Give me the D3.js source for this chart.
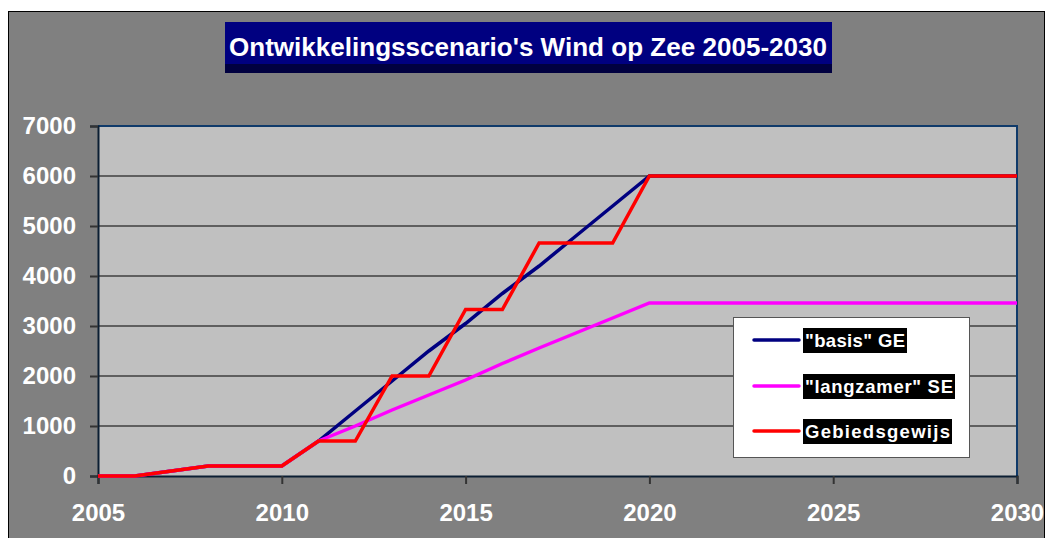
<!DOCTYPE html>
<html>
<head>
<meta charset="utf-8">
<script src="https://cdn.jsdelivr.net/npm/d3@7"></script>
<style>
  body { margin: 0; background: #fff; }
  svg { display: block; font-family: Arial, "Liberation Sans", sans-serif; }
</style>
</head>
<body>
<svg id="chart" width="1047" height="538"></svg>
<script>
// Data
var years = d3.range(2005, 2031);
var basis = [0, 0, 100, 200, 200, 200, 700, 1300, 1900, 2500, 3050, 3650, 4200, 4800, 5400, 6000,
             6000, 6000, 6000, 6000, 6000, 6000, 6000, 6000, 6000, 6000];
var langzamer = [0, 0, 100, 200, 200, 200, 700, 1000, 1320, 1620, 1920, 2250, 2560, 2860, 3160, 3460,
                 3460, 3460, 3460, 3460, 3460, 3460, 3460, 3460, 3460, 3460];
var gebied = [0, 0, 100, 200, 200, 200, 700, 700, 2000, 2000, 3330, 3330, 4660, 4660, 4660, 6000,
              6000, 6000, 6000, 6000, 6000, 6000, 6000, 6000, 6000, 6000];
var seriesNames = ['"basis" GE', '"langzamer" SE', 'Gebiedsgewijs'];
var seriesColors = ["#000080", "#ff00ff", "#ff0000"];
var xTicks = [2005, 2010, 2015, 2020, 2025, 2030];
var yTicks = [0, 1000, 2000, 3000, 4000, 5000, 6000, 7000];
var title = "Ontwikkelingsscenario's Wind op Zee 2005-2030";

var svg = d3.select("#chart");

// outer chart area
svg.append("rect")
  .attr("x", 8.5).attr("y", 11.5)
  .attr("width", 1036).attr("height", 540)
  .attr("fill", "#808080")
  .attr("stroke", "#000").attr("stroke-width", 1);

// title box
svg.append("rect")
  .attr("x", 225).attr("y", 22).attr("width", 607).attr("height", 51)
  .attr("fill", "#000040");
svg.append("rect")
  .attr("x", 225).attr("y", 22).attr("width", 607).attr("height", 42)
  .attr("fill", "#000080");
svg.append("text")
  .attr("x", 229).attr("y", 56)
  .attr("textLength", 598).attr("lengthAdjust", "spacingAndGlyphs")
  .attr("fill", "#fff").attr("font-weight", "bold").attr("font-size", 26)
  .text(title);

// Scales
var x = d3.scaleLinear().domain([2005, 2030]).range([98, 1017]);
var y = d3.scaleLinear().domain([0, 7000]).range([476, 126]);

// plot area
svg.append("rect")
  .attr("x", x(2005)).attr("y", y(7000))
  .attr("width", x(2030) - x(2005)).attr("height", y(0) - y(7000))
  .attr("fill", "#c0c0c0");

// gridlines
svg.append("g")
  .selectAll("line")
  .data(yTicks.filter(function(d) { return d > 0 && d < 7000; }))
  .enter().append("line")
  .attr("x1", x(2005)).attr("x2", x(2030))
  .attr("y1", function(d) { return y(d); })
  .attr("y2", function(d) { return y(d); })
  .attr("stroke", "#5f5f5f").attr("stroke-width", 2);

// plot border
svg.append("path")
  .attr("d", "M" + x(2005) + "," + y(7000) + "H" + x(2030) + "V" + y(0))
  .attr("fill", "none").attr("stroke", "#0f3a6a").attr("stroke-width", 2);

// axes
var yAxis = d3.axisLeft(y).tickValues(yTicks).tickSize(8).tickPadding(14).tickFormat(d3.format("d"));
var gy = svg.append("g").attr("transform", "translate(" + x(2005) + ",0)").call(yAxis);
var xAxis = d3.axisBottom(x).tickValues(xTicks).tickSize(8).tickPadding(20).tickFormat(d3.format("d"));
var gx = svg.append("g").attr("transform", "translate(0," + y(0) + ")").call(xAxis);

[gx, gy].forEach(function(g) {
  g.select(".domain").attr("stroke", "#0b1e33").attr("stroke-width", 2);
  g.selectAll(".tick line").attr("stroke", "#333").attr("stroke-width", 2);
  g.selectAll(".tick text")
    .attr("fill", "#fff").attr("font-size", 24).attr("font-weight", "bold")
    .attr("font-family", "Arial, 'Liberation Sans', sans-serif");
});

// lines
var line = d3.line()
  .x(function(d, i) { return x(years[i]); })
  .y(function(d) { return y(d); });

[basis, langzamer, gebied].forEach(function(s, i) {
  svg.append("path")
    .datum(s)
    .attr("d", line)
    .attr("fill", "none")
    .attr("stroke", seriesColors[i])
    .attr("stroke-width", 3.5)
    .attr("stroke-linejoin", "miter");
});

// legend
var legend = svg.append("g");
legend.append("rect")
  .attr("x", 733.5).attr("y", 317.5).attr("width", 236).attr("height", 140)
  .attr("fill", "#fff").attr("stroke", "#555").attr("stroke-width", 1);

var legendRows = [340, 386, 431];
var legendWidths = [100, 148, 145];
seriesNames.forEach(function(name, i) {
  var ly = legendRows[i];
  legend.append("line")
    .attr("x1", 754).attr("x2", 799)
    .attr("y1", ly).attr("y2", ly)
    .attr("stroke", seriesColors[i]).attr("stroke-width", 3.5)
    .attr("stroke-linecap", "round");
  legend.append("rect")
    .attr("x", 803).attr("y", ly - 12)
    .attr("width", legendWidths[i] + 4).attr("height", 25)
    .attr("fill", "#000");
  legend.append("text")
    .attr("x", 805).attr("y", ly + 7)
    .attr("textLength", legendWidths[i]).attr("lengthAdjust", "spacing")
    .attr("fill", "#fff").attr("font-weight", "bold").attr("font-size", 18.5)
    .text(name);
});
</script>
</body>
</html>
